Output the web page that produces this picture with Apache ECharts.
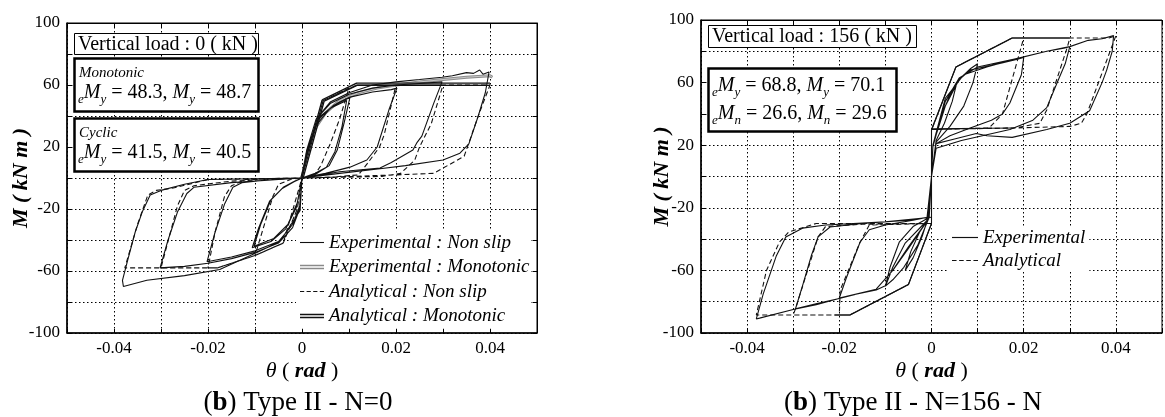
<!DOCTYPE html>
<html><head><meta charset="utf-8">
<script src="https://cdn.jsdelivr.net/npm/echarts@6/dist/echarts.min.js"></script>
<style>html,body{margin:0;padding:0;background:#fff}#c{width:1165px;height:417px}</style>
</head><body><div id="c"></div><script>
const SERIF = 'Liberation Serif';
// tick labels
const xTickLabels = ['-0.04', '-0.02', '0', '0.02', '0.04'];
const yTickLabels = ['100', '60', '20', '-20', '-60', '-100'];

// ---------- Left chart (N = 0) ----------
const leftNames = ['Experimental : Non slip', 'Experimental : Monotonic', 'Analytical : Non slip', 'Analytical : Monotonic'];
const leftExpNonSlip = [
 [0,0],
 [0.001,15],[0.003,34],[0.006,45],[0.0095,50],
 [0.0085,33],[0.007,17],[0.0052,7],[0.0028,3],[0,0],
 [-0.001,-16],[-0.003,-30],[-0.006,-39],[-0.0102,-44],
 [-0.0088,-30],[-0.0066,-14],[-0.004,-6],[-0.0015,-2],[0,0],
 [0.0012,19],[0.0035,38],[0.0068,47],[0.0102,52],
 [0.009,36],[0.0075,18],[0.0058,8],[0.0032,3],[0,0],
 [-0.0012,-19],[-0.0035,-33],[-0.0066,-41],[-0.0106,-45],
 [-0.0092,-32],[-0.0069,-15],[-0.0043,-7],[-0.0017,-2.5],[0,0],
 [0.0012,18],[0.0035,39],[0.0074,48],[0.01,52],[0.015,55.5],[0.019,57],[0.0202,58],
 [0.0185,44],[0.016,20],[0.0138,11.6],[0.0102,7],[0.005,3],[0,0],
 [-0.0005,-18],[-0.002,-30],[-0.005,-41],[-0.01,-47],[-0.015,-51],[-0.0202,-54],
 [-0.0185,-35],[-0.0165,-17],[-0.0147,-6],[-0.0128,-3],[-0.008,-1.5],[0,0],
 [0.001,18],[0.003,38],[0.006,48],[0.01,54],[0.015,58],[0.02,60],[0.025,61],[0.0298,62],
 [0.028,48],[0.0255,27],[0.0245,23],[0.0236,18],[0.019,10],[0.0166,6.5],[0.008,4],[0,0],
 [-0.0005,-20],[-0.002,-32],[-0.005,-42],[-0.01,-48],[-0.015,-52],[-0.02,-55],[-0.025,-57],[-0.0302,-58],
 [-0.0285,-40],[-0.0265,-22],[-0.0245,-10],[-0.023,-6],[-0.015,-3],[-0.005,-1],[0,0],
 [0.001,18],[0.003,38],[0.006,49],[0.01,55],[0.015,60],[0.02,62],[0.025,63.5],[0.0298,65],[0.032,66],[0.035,68],[0.0365,67.5],[0.0378,69.7],[0.0385,67],[0.0398,68.4],
 [0.039,55],[0.0375,40],[0.0355,22],[0.0336,16],[0.030,11.6],[0.022,8],[0.0166,6],[0.008,3],[0,0],
 [-0.0004,-21],[-0.0047,-41],[-0.0096,-48],[-0.0175,-59],[-0.025,-63],[-0.033,-66],[-0.038,-70],
 [-0.0382,-66],[-0.037,-52],[-0.0355,-35],[-0.034,-22],[-0.0323,-11],[-0.030,-8],[-0.025,-4],[-0.02,-1],[-0.01,-0.5],[0,0]
];
const leftExpMonotonic = [
 [0,0],[0.001,15],[0.003,33],[0.005,42],[0.008,50],[0.012,55],[0.016,58],[0.02,60],[0.025,62],[0.03,63.5],[0.035,65],[0.04,66],[0.0405,65]
];
const leftAnaNonSlip = [
 [0,0],[0.0045,50],[0.01,58],
 [0.008,38],[0.006,22],[0.004,8],[0.0025,1],[0,0],
 [-0.001,-20],[-0.004,-42],[-0.01,-50],
 [-0.008,-30],[-0.0062,-12],[-0.005,-4],[-0.002,-0.5],[0,0],
 [0.0045,50],[0.0117,60],[0.02,60],
 [0.0175,28],[0.0165,20],[0.014,9.7],[0.012,2],[0.006,0.5],[0,0],
 [-0.001,-20],[-0.004,-42],[-0.01,-50],[-0.018,-58],[-0.02,-58],
 [-0.0185,-35],[-0.0165,-12],[-0.015,-5],[-0.012,-1],[0,0],
 [0.0045,50],[0.0117,60],[0.03,60],
 [0.0275,35],[0.025,20],[0.024,11.6],[0.021,3],[0.017,1],[0,0],
 [-0.004,-42],[-0.01,-50],[-0.018,-58],[-0.03,-58],
 [-0.028,-35],[-0.0265,-18],[-0.025,-8],[-0.023,-5],[-0.015,-2],[0,0],
 [0.0045,50],[0.0117,60],[0.04,60],
 [0.0375,40],[0.0345,14],[0.028,3],[0.02,2],[0,0],
 [-0.004,-42],[-0.01,-50],[-0.018,-58],[-0.0377,-58],
 [-0.035,-30],[-0.0328,-11],[-0.031,-8],[-0.0274,-6.5],[-0.02,-1],[0,0]
];
const leftAnaMonotonic = [[0,0],[0.0045,50],[0.0117,60.5],[0.04,60.5]];

// ---------- Right chart (N = 156) ----------
const rightNames = ['Experimental', 'Analytical'];
const rightExp = [
 [0,0],[0.0003,20],[0.002,38],[0.004,52],[0.0055,60],
 [0.0045,48],[0.0028,34],[0.001,23],[0,0],
 [-0.0005,-24],[-0.002,-38],[-0.004,-52],[-0.0057,-60],
 [-0.0045,-48],[-0.0025,-35],[-0.001,-28],[0,0],
 [0.0003,20],[0.003,45],[0.006,62],[0.0085,69],[0.01,72],
 [0.009,60],[0.007,45],[0.004,32],[0.001,22],[0,0],
 [-0.0005,-26],[-0.003,-44],[-0.006,-58],[-0.0084,-66],[-0.01,-70],
 [-0.009,-58],[-0.007,-42],[-0.004,-32],[-0.001,-27],[0,0],
 [0.0003,20],[0.003,48],[0.006,62],[0.0084,68],[0.013,71],[0.018,74.5],[0.02,76],
 [0.0195,65],[0.017,47],[0.0154,40],[0.013,36],[0.0084,31],[0.004,26],[0.001,21],[0,0],
 [-0.0006,-27],[-0.0057,-42.5],[-0.0084,-58],[-0.0099,-69.6],[-0.012,-72.5],[-0.0177,-76],[-0.02,-77.6],
 [-0.0185,-65],[-0.0155,-42],[-0.0135,-34],[-0.01,-31],[-0.004,-28],[-0.0008,-26],[0,0],
 [0.0003,19],[0.003,48],[0.006,63],[0.01,70],[0.018,75],[0.025,80],[0.0287,82],[0.03,83],
 [0.029,72],[0.0275,61.7],[0.025,44],[0.022,36],[0.017,30],[0.0065,23],[0.001,18],[0,0],
 [-0.0006,-27],[-0.005,-45],[-0.0084,-60],[-0.012,-72],[-0.02,-78],[-0.0246,-81],[-0.0295,-84.5],
 [-0.028,-70],[-0.026,-50],[-0.0246,-38.6],[-0.022,-32.3],[-0.015,-30],[-0.005,-28],[-0.0008,-26],[0,0],
 [0.0003,20],[0.003,50],[0.007,65],[0.012,70],[0.018,75],[0.025,80],[0.03,83],[0.034,87],[0.037,88],[0.0395,90],
 [0.0392,80],[0.038,68],[0.037,60],[0.0343,42],[0.030,34],[0.025,30],[0.0175,25],[0.012,26],[0.0097,27.5],[0.005,24],[0.001,21],[0,0],
 [-0.0006,-27],[-0.005,-46],[-0.0084,-60],[-0.012,-72],[-0.0177,-76],[-0.025,-82],[-0.03,-85],[-0.0373,-90.5],[-0.038,-91],
 [-0.0365,-75],[-0.0337,-51],[-0.0316,-38.6],[-0.028,-33],[-0.023,-31],[-0.01,-29],[0,-26]
];
const rightAna = [
 [0,0],[0,29.6],[0.0053,70],[0.0175,88.5],[0.02,88.5],
 [0.0154,40],[0.0125,31],[0,30],[0,-30],
 [-0.005,-69],[-0.0177,-88.5],[-0.02,-88.5],
 [-0.0198,-72.5],[-0.0155,-42],[-0.0135,-31],[0,-30],[0,30],
 [0.0053,70],[0.0175,88.5],[0.03,88.5],
 [0.0295,83],[0.025,42.5],[0.0235,34],[0.018,31],[0,30],[0,-30],
 [-0.005,-69],[-0.0177,-88.5],[-0.03,-88.5],
 [-0.0295,-84.5],[-0.0246,-38.6],[-0.023,-32],[-0.015,-30.5],[0,-30],[0,30],
 [0.0053,70],[0.0175,88.5],[0.0385,88.5],[0.04,90],
 [0.0337,40],[0.0325,34],[0.03,32],[0.018,31],[0,30],[0,-30],
 [-0.005,-69],[-0.0177,-88.5],[-0.038,-88.5],
 [-0.0358,-60],[-0.033,-42],[-0.031,-35.5],[-0.025,-30],[0,-30],[0,0]
];
// analytical envelope segments that print as solid in the original
const rightAnaEnvelope = [
 [0,29.6],[0.0053,70],[0.0175,88.5],[0.03,88.5],['-','-'],
 [0,30.5],[0.018,31],['-','-'],
 [0,-30],[-0.005,-69],[-0.0177,-88.5],[-0.021,-88.5]
];

// ---------- helpers ----------
function fmtX(v){ const s = Math.abs(v) < 1e-9 ? '0' : v.toFixed(2); return xTickLabels.indexOf(s) >= 0 ? s : ''; }
function fmtY(v){ const s = String(Math.round(v)); return yTickLabels.indexOf(s) >= 0 ? s : ''; }
const lblStyle = {fontFamily: SERIF, fontSize: 17, color: '#000'};
const dotted = {show: true, lineStyle: {color: '#000', width: 1, type: [1.5, 2.5]}};

function xAxisMain(grid, nameGap){
 return {type:'value', gridIndex:grid, min:-0.05, max:0.05, interval:0.01,
  axisLine:{show:true, onZero:false, lineStyle:{color:'#000', width:1.5}},
  axisTick:{show:true, inside:true, length:4, lineStyle:{color:'#000'}},
  axisLabel:Object.assign({formatter:fmtX, margin:7, showMinLabel:true, showMaxLabel:true}, lblStyle),
  splitLine:dotted,
  name:'{t|θ}{p| ( }{r|rad}{p| )}', nameLocation:'middle', nameGap:nameGap, nameMoveOverlap:false,
  nameTextStyle:{fontFamily:SERIF, fontSize:22, color:'#000', verticalAlign:'top',
   rich:{t:{fontFamily:SERIF, fontSize:22, fontStyle:'italic'}, p:{fontFamily:SERIF, fontSize:22}, r:{fontFamily:SERIF, fontSize:22, fontStyle:'italic', fontWeight:'bold'}}}
 };
}
function xAxisTop(grid){
 return {type:'value', gridIndex:grid, position:'top', min:-0.05, max:0.05, interval:0.01,
  axisLine:{show:true, onZero:false, lineStyle:{color:'#000', width:1}},
  axisTick:{show:true, inside:true, length:4, lineStyle:{color:'#000'}},
  axisLabel:{show:false}, splitLine:{show:false}};
}
function yAxisMain(grid, nameGap){
 return {type:'value', gridIndex:grid, min:-100, max:100, interval:20,
  axisLine:{show:true, onZero:false, lineStyle:{color:'#000', width:1.5}},
  axisTick:{show:true, inside:true, length:4, lineStyle:{color:'#000'}},
  axisLabel:Object.assign({formatter:fmtY, margin:7, showMinLabel:true, showMaxLabel:true}, lblStyle),
  splitLine:dotted,
  name:'M ( kN m )', nameLocation:'middle', nameGap:nameGap, nameRotate:90, nameMoveOverlap:false,
  nameTextStyle:{fontFamily:SERIF, fontSize:22, fontStyle:'italic', fontWeight:'bold', color:'#000'}
 };
}

const solid = (w) => ({color:'#111', width:w, type:'solid'});
function line(name, data, xi, yi, ls, z){
 return {name, type:'line', xAxisIndex:xi, yAxisIndex:yi, data, symbol:'none', smooth:false,
  lineStyle:ls, itemStyle:{color:ls.color}, z:z||2, animation:false, silent:true};
}

// annotation graphics
const rich = {
 m:{fontFamily:SERIF, fontSize:20, fontStyle:'italic', lineHeight:26, fill:'#000'},
 s:{fontFamily:SERIF, fontSize:13, fontStyle:'italic', lineHeight:14, verticalAlign:'bottom', fill:'#000'}
};
function rect(x,y,w,h,lw){ return {type:'rect', shape:{x,y,width:w,height:h}, style:{fill:'#fff', stroke:'#000', lineWidth:lw}, z:100}; }
function rtext(x,y,text,extra){ return {type:'text', x, y, z:101, style:Object.assign({text, rich, fill:'#000', fontFamily:SERIF, fontSize:20, align:'left', verticalAlign:'middle'}, extra||{})}; }

const capRich = {p:{fontFamily:SERIF, fontSize:27, fill:'#000'}, b:{fontFamily:SERIF, fontSize:27, fontWeight:'bold', fill:'#000'}};

const graphics = [
 rect(74.5,33.5,184,21,1), rtext(78,44.5,'Vertical load : 0 ( kN )',{fontSize:20}),
 rect(74.5,58.5,184,53,2.5), rtext(79,73,'Monotonic',{fontStyle:'italic', fontSize:15}),
 rtext(78,93,'{s|e}{m|M}{s|y} = 48.3, {m|M}{s|y} = 48.7'),
 rect(74.5,118.5,184,53,2.5), rtext(79,133,'Cyclic',{fontStyle:'italic', fontSize:15}),
 rtext(78,153,'{s|e}{m|M}{s|y} = 41.5, {m|M}{s|y} = 40.5'),
 rect(708.5,25.5,208,22,1), rtext(712,37,'Vertical load : 156 ( kN )',{fontSize:20}),
 rect(708.5,68.5,188,63,2.5),
 rtext(712,86,'{s|e}{m|M}{s|y} = 68.8, {m|M}{s|y} = 70.1'),
 rtext(712,114,'{s|e}{m|M}{s|n} = 26.6, {m|M}{s|n} = 29.6'),
 {type:'text', x:298, y:403, z:101, style:{text:'{p|(}{b|b}{p|) Type II - N=0}', rich:capRich, align:'center', verticalAlign:'middle'}},
 {type:'text', x:913, y:403, z:101, style:{text:'{p|(}{b|b}{p|) Type II - N=156 - N}', rich:capRich, align:'center', verticalAlign:'middle'}}
];

const solidIcon = 'path://M0,0H40V1.8H0Z';
const dashIcon = 'path://M0,0H7V1.8H0ZM11,0H18V1.8H11ZM22,0H29V1.8H22ZM33,0H40V1.8H33Z';
const dblIcon = 'path://M0,0H40V2.2H0ZM0,5H40V7.2H0Z';
const legendText = {fontFamily:SERIF, fontSize:19, fontStyle:'italic', color:'#000'};

const option = {
 animation:false,
 backgroundColor:'#fff',
 grid:[
  {left:67, top:23, width:470, height:310, show:true, borderColor:'#000', borderWidth:1, backgroundColor:'transparent'},
  {left:701, top:20, width:474, height:313, show:true, borderColor:'#000', borderWidth:1, backgroundColor:'transparent'}
 ],
 xAxis:[xAxisMain(0, 27), xAxisMain(1, 27), xAxisTop(0), xAxisTop(1)],
 yAxis:[yAxisMain(0, 35), yAxisMain(1, 28),
  {type:'value', gridIndex:0, position:'right', min:-100, max:100, interval:20,
   axisLine:{show:true, onZero:false, lineStyle:{color:'#000', width:1}},
   axisTick:{show:true, inside:true, length:4, lineStyle:{color:'#000'}},
   axisLabel:{show:false}, splitLine:{show:false}}],
 legend:[
  {show:true, orient:'vertical', left:296, top:230, itemWidth:24, itemHeight:10, itemGap:5.5,
   backgroundColor:'#fff', padding:[3,2,3,4], textStyle:legendText, selectedMode:false, z:50,
   data:[
    {name:leftNames[0], icon:solidIcon, itemStyle:{color:'#111'}},
    {name:leftNames[1], icon:dblIcon, itemStyle:{color:'#8a8a8a'}},
    {name:leftNames[2], icon:dashIcon, itemStyle:{color:'#111'}},
    {name:leftNames[3], icon:dblIcon, itemStyle:{color:'#111'}}
   ]},
  {show:true, orient:'vertical', left:949, top:226, itemWidth:26, itemHeight:10, itemGap:4,
   backgroundColor:'#fff', padding:[2,4,2,3], textStyle:legendText, selectedMode:false, z:50,
   data:[{name:rightNames[0], icon:solidIcon, itemStyle:{color:'#111'}}, {name:rightNames[1], icon:dashIcon, itemStyle:{color:'#111'}}]}
 ],
 graphic:graphics,
 series:[
  line(leftNames[1], leftExpMonotonic, 0, 0, {color:'#8a8a8a', width:3}, 2),
  line('_expMonoCore', leftExpMonotonic, 0, 0, {color:'#d8d8d8', width:0.8}, 2),
  line(leftNames[3], leftAnaMonotonic, 0, 0, {color:'#111', width:3.6}, 3),
  line('_anaMonoCore', leftAnaMonotonic, 0, 0, {color:'#fff', width:0.9}, 3),
  line(leftNames[0], leftExpNonSlip, 0, 0, solid(1.1), 4),
  line(leftNames[2], leftAnaNonSlip, 0, 0, {color:'#111', width:1.1, type:[5,3]}, 4),
  line(rightNames[0], rightExp, 1, 1, solid(1.1), 4),
  line(rightNames[1], rightAna, 1, 1, {color:'#111', width:1.1, type:[5,3]}, 4),
  line('_anaEnvelope', rightAnaEnvelope, 1, 1, solid(1.1), 4)
 ]
};

const chart = echarts.init(document.getElementById('c'), null, {renderer:'canvas'});
chart.setOption(option);
</script></body></html>
